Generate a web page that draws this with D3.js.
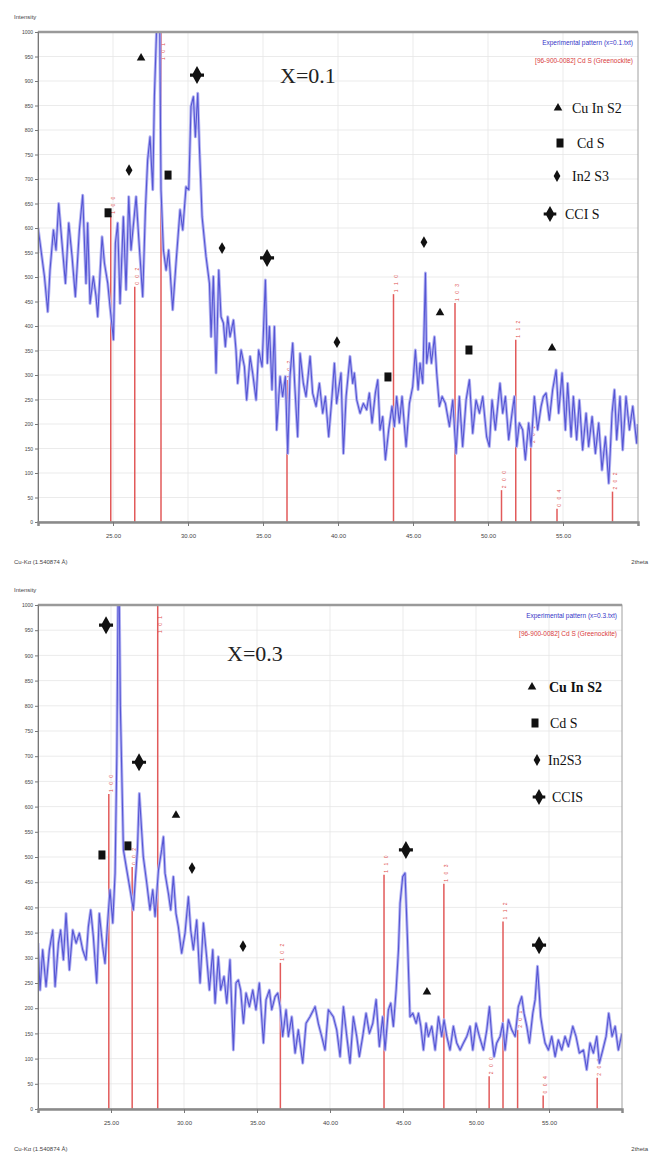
<!DOCTYPE html>
<html>
<head>
<meta charset="utf-8">
<script src="https://cdn.jsdelivr.net/npm/d3@7"></script>
<style>
body { margin: 0; background: #fff; }
</style>
</head>
<body>
<script>
// measured XRD pattern, sample x = 0.1  [2theta, counts]
var pattern01 = [[20.0,600],[20.14,569],[20.43,501],[20.65,429],[20.8,514],[21.03,596],[21.2,555],[21.38,650],[21.6,569],[21.83,487],[22.05,610],[22.27,542],[22.49,460],[22.76,596],[22.98,667],[23.2,487],[23.31,610],[23.47,446],[23.69,501],[23.87,460],[23.98,419],[24.27,582],[24.43,528],[24.65,487],[24.8,440],[25.03,372],[25.16,569],[25.31,610],[25.47,446],[25.69,623],[25.87,474],[26.05,664],[26.2,555],[26.54,664],[26.71,582],[26.98,460],[27.16,637],[27.31,739],[27.47,786],[27.65,678],[27.76,868],[27.9,1000],[28.0,1180],[28.12,1000],[28.2,678],[28.36,555],[28.54,514],[28.71,555],[28.98,433],[29.2,528],[29.47,637],[29.65,596],[29.87,684],[30.05,678],[30.2,848],[30.36,868],[30.49,786],[30.65,875],[30.76,766],[30.94,623],[31.2,542],[31.43,487],[31.54,378],[31.69,501],[31.87,304],[32.05,514],[32.2,419],[32.36,406],[32.49,358],[32.65,419],[32.8,378],[33.03,412],[33.2,351],[33.31,283],[33.54,351],[33.76,317],[33.91,249],[34.14,338],[34.31,304],[34.54,249],[34.71,351],[34.94,317],[35.16,494],[35.29,324],[35.43,399],[35.6,270],[35.76,399],[35.91,188],[36.14,297],[36.31,256],[36.49,297],[36.65,140],[36.8,297],[36.98,365],[37.11,283],[37.31,174],[37.47,344],[37.69,283],[37.87,256],[38.14,338],[38.31,263],[38.54,236],[38.76,283],[38.98,222],[39.16,256],[39.38,174],[39.6,256],[39.76,324],[39.91,242],[40.2,304],[40.36,140],[40.54,256],[40.8,338],[40.98,283],[41.09,304],[41.25,249],[41.47,222],[41.69,242],[41.91,229],[42.09,263],[42.27,202],[42.49,263],[42.65,290],[42.8,188],[42.98,215],[43.16,127],[43.38,188],[43.6,236],[43.76,195],[43.91,256],[44.09,202],[44.27,256],[44.54,154],[44.76,242],[44.98,276],[45.16,351],[45.34,270],[45.47,324],[45.65,283],[45.83,508],[45.91,324],[46.09,365],[46.23,324],[46.43,378],[46.58,304],[46.76,236],[46.94,256],[47.16,242],[47.43,195],[47.65,249],[47.87,140],[48.09,256],[48.31,154],[48.54,249],[48.76,290],[48.98,181],[49.2,249],[49.43,222],[49.65,256],[49.91,174],[50.09,154],[50.27,249],[50.49,188],[50.8,283],[50.98,222],[51.16,256],[51.38,168],[51.6,222],[51.76,256],[51.91,154],[52.09,202],[52.31,188],[52.49,127],[52.71,202],[52.87,154],[53.09,256],[53.31,188],[53.54,236],[53.69,256],[53.87,263],[54.09,208],[54.31,270],[54.54,310],[54.71,222],[54.94,304],[55.16,188],[55.31,283],[55.54,174],[55.69,256],[55.91,168],[56.09,249],[56.31,147],[56.54,222],[56.71,154],[56.94,215],[57.16,140],[57.38,202],[57.6,106],[57.83,174],[58.05,79],[58.27,222],[58.43,270],[58.58,168],[58.8,256],[58.98,147],[59.2,256],[59.43,188],[59.65,236],[59.91,161],[60.0,200]];

// measured XRD pattern, sample x = 0.3
var pattern03 = [[20.0,329],[20.14,236],[20.32,316],[20.55,243],[20.78,316],[21.01,355],[21.17,243],[21.4,329],[21.55,355],[21.74,296],[21.92,388],[22.15,276],[22.38,355],[22.61,329],[22.83,349],[23.06,316],[23.29,296],[23.45,362],[23.61,395],[23.79,342],[24.02,250],[24.2,388],[24.43,322],[24.59,289],[24.75,362],[24.93,435],[25.12,369],[25.28,468],[25.4,700],[25.52,1150],[25.64,800],[25.85,514],[26.08,474],[26.35,428],[26.53,395],[26.65,448],[26.81,514],[26.94,626],[27.21,501],[27.45,448],[27.67,395],[27.86,435],[28.02,382],[28.25,474],[28.47,514],[28.59,540],[28.7,468],[28.93,428],[29.09,395],[29.27,461],[29.45,388],[29.61,362],[29.84,309],[30.07,349],[30.3,421],[30.46,355],[30.64,316],[30.87,375],[31.1,250],[31.33,369],[31.55,302],[31.74,236],[31.97,316],[32.13,210],[32.35,302],[32.51,236],[32.74,263],[32.93,210],[33.15,296],[33.38,117],[33.56,250],[33.72,256],[33.88,236],[34.07,170],[34.25,230],[34.48,203],[34.71,236],[34.93,197],[35.16,250],[35.44,131],[35.62,217],[35.85,236],[36.01,197],[36.24,223],[36.42,230],[36.58,203],[36.76,144],[36.99,197],[37.15,144],[37.38,183],[37.61,111],[37.83,157],[38.13,91],[38.36,170],[38.63,183],[38.98,203],[39.2,170],[39.43,144],[39.66,117],[39.89,197],[40.23,183],[40.46,157],[40.69,104],[40.92,203],[41.15,144],[41.37,91],[41.6,183],[41.83,144],[42.01,104],[42.24,144],[42.47,190],[42.7,150],[42.93,170],[43.16,217],[43.38,124],[43.61,183],[43.77,117],[44.0,197],[44.16,210],[44.34,164],[44.53,236],[44.69,316],[44.8,408],[44.98,461],[45.14,468],[45.3,342],[45.48,183],[45.67,190],[45.9,170],[46.06,190],[46.22,164],[46.4,117],[46.58,170],[46.74,144],[46.97,164],[47.2,117],[47.43,183],[47.65,144],[47.81,177],[48.0,144],[48.22,117],[48.45,164],[48.68,131],[48.91,117],[49.14,131],[49.37,144],[49.59,164],[49.78,117],[50.0,170],[50.23,144],[50.51,117],[50.74,157],[50.92,203],[51.08,144],[51.24,104],[51.42,131],[51.65,144],[51.83,170],[51.99,117],[52.22,177],[52.45,157],[52.68,144],[52.9,203],[53.13,223],[53.29,190],[53.48,164],[53.66,131],[53.89,190],[54.05,217],[54.21,283],[54.32,236],[54.43,183],[54.57,157],[54.73,131],[54.96,117],[55.19,144],[55.42,104],[55.64,137],[55.87,117],[56.1,144],[56.33,124],[56.63,164],[56.85,144],[57.08,111],[57.36,117],[57.58,78],[57.81,131],[58.04,111],[58.27,144],[58.45,91],[58.68,117],[58.91,144],[59.09,190],[59.32,144],[59.53,164],[59.75,117],[60.0,150]];

// reference card 96-900-0082 CdS (Greenockite)
var refTheta = [24.85, 26.45, 28.2, 36.6, 43.7, 47.8, 50.9, 51.85, 52.85, 54.6, 58.3];
var refInt   = [625, 480, 1000, 290, 465, 447, 65, 372, 157, 27, 62];
var refHkl   = ["1 0 0", "0 0 2", "1 0 1", "1 0 2", "1 1 0", "1 0 3", "2 0 0", "1 1 2", "2 0 1", "0 0 4", "2 0 2"];

var xTicks = [25, 30, 35, 40, 45, 50, 55];
var yTicks = d3.range(0, 1001, 50);

// phase markers [type, 2theta, height]
var marks01 = [["tri",26.87,947],["dia",26.07,718],["sq",24.67,631],["sq",28.67,708],["ccis",30.6,912],["dia",32.27,559],["ccis",35.27,539],["dia",39.93,367],["sq",43.33,296],["dia",45.73,571],["tri",46.8,427],["sq",48.73,351],["tri",54.27,355]];
var marks03 = [["sq",24.38,504],["sq",26.16,522],["ccis",24.66,960],["ccis",26.92,688],["tri",29.45,583],["dia",30.55,478],["dia",34.04,323],["ccis",45.2,514],["tri",46.64,232],["ccis",54.32,325]];

var phaseNames01 = ["Cu In S2", "Cd S", "In2 S3", "CCI S"];
var phaseNames03 = ["Cu In S2", "Cd S", "In2S3", "CCIS"];

var sans = "Liberation Sans, Arial, sans-serif";
var serif = "Liberation Serif, Times New Roman, serif";

var svg = d3.select("body").append("svg")
    .attr("width", 653).attr("height", 1160)
    .style("font-family", sans);

function symbolPath(type, s) {
  if (type == "tri") return d3.symbol(d3.symbolTriangle, 32 * s * s)();
  if (type == "dia") return d3.symbol(d3.symbolDiamond, 40 * s * s)();
  if (type == "sq") return "M" + (-3.5 * s) + "," + (-4.5 * s) + "h" + (7 * s) + "v" + (9 * s) + "h" + (-7 * s) + "Z";
  // CCIS: tall diamond crossed by a bar
  return "M0," + (-9 * s) + "L" + (5 * s) + ",0L0," + (9 * s) + "L" + (-5 * s) + ",0Z" +
         "M" + (-7 * s) + "," + (-1.6 * s) + "h" + (14 * s) + "v" + (3.2 * s) + "h" + (-14 * s) + "Z";
}

function panel(p) {
  var g = svg.append("g");
  var x = d3.scaleLinear().domain([20, 60]).range([p.left, p.right]);
  var y = d3.scaleLinear().domain([0, 1000]).range([p.bottom, p.top]);

  // grid
  g.selectAll(".hg").data(yTicks.slice(1)).enter().append("line")
    .attr("x1", p.left).attr("x2", p.right)
    .attr("y1", d => y(d)).attr("y2", d => y(d))
    .attr("stroke", "#e6e6e6").attr("stroke-width", 0.8);
  g.selectAll(".vg").data(xTicks).enter().append("line")
    .attr("x1", d => x(d)).attr("x2", d => x(d))
    .attr("y1", p.top).attr("y2", p.bottom)
    .attr("stroke", "#e6e6e6").attr("stroke-width", 0.8);

  var clipId = "clip" + p.id;
  svg.append("clipPath").attr("id", clipId).append("rect")
    .attr("x", p.left).attr("y", p.top).attr("width", p.right - p.left).attr("height", p.bottom - p.top);

  // reference sticks
  g.selectAll(".ref").data(refTheta).enter().append("line")
    .attr("x1", d => x(d)).attr("x2", d => x(d))
    .attr("y1", p.bottom).attr("y2", (d, i) => y(refInt[i]))
    .attr("stroke", "#e25a5a").attr("stroke-width", 1.5);
  g.selectAll(".hkl").data(refTheta).enter().append("text")
    .attr("transform", function(d, i) {
      var top = Math.max(y(refInt[i]) - 2, p.top + 28);
      return "translate(" + (x(d) + 4) + "," + top + ") rotate(-90)";
    })
    .attr("font-size", 5).attr("fill", "#e05050").attr("letter-spacing", 1.5)
    .text((d, i) => refHkl[i]);

  // experimental pattern: soft halo plus core stroke
  var line = d3.line().x(d => x(d[0])).y(d => y(d[1]));
  g.append("path").datum(p.data)
    .attr("clip-path", "url(#" + clipId + ")")
    .attr("d", line).attr("fill", "none")
    .attr("stroke", "#b4b4f2").attr("stroke-width", 3).attr("stroke-linejoin", "round");
  g.append("path").datum(p.data)
    .attr("clip-path", "url(#" + clipId + ")")
    .attr("d", line).attr("fill", "none")
    .attr("stroke", "#5656d4").attr("stroke-width", 1.1).attr("stroke-linejoin", "round");

  // frame
  g.append("rect").attr("x", p.left).attr("y", p.top)
    .attr("width", p.right - p.left).attr("height", p.bottom - p.top)
    .attr("fill", "none").attr("stroke", "#a0a0a0").attr("stroke-width", 1);
  g.append("line").attr("x1", p.left).attr("x2", p.right).attr("y1", p.top).attr("y2", p.top)
    .attr("stroke", "#9a9a9a").attr("stroke-width", 2.5);

  // axes
  var ya = g.append("g").attr("transform", "translate(" + p.left + ",0)")
    .call(d3.axisLeft(y).tickValues(yTicks).tickFormat(d3.format("d")).tickSize(3).tickPadding(2));
  ya.selectAll("text").attr("font-size", 5).attr("fill", "#444");
  ya.selectAll("line,path").attr("stroke", "#777");
  var xa = g.append("g").attr("transform", "translate(0," + p.bottom + ")")
    .call(d3.axisBottom(x).tickValues(xTicks).tickFormat(d3.format(".2f")).tickSize(4).tickPadding(8));
  xa.selectAll("text").attr("font-size", 6).attr("fill", "#444");
  xa.select(".domain").attr("stroke", "#8a8a8a").attr("stroke-width", 2.5);
  xa.selectAll(".tick line").attr("stroke", "#777");
  svg.selectAll(".tick text").style("font-family", sans);

  g.append("text").attr("x", 14).attr("y", p.top - 13).attr("font-size", 6).attr("fill", "#444").text("Intensity");
  g.append("text").attr("x", 14).attr("y", p.bottom + 42).attr("font-size", 6).attr("fill", "#444").text("Cu-K\u03b1 (1.540874 \u00c5)");
  g.append("text").attr("x", 648).attr("y", p.bottom + 42).attr("text-anchor", "end")
    .attr("font-size", 6).attr("fill", "#444").text("2theta");

  // legend of the software
  g.append("text").attr("x", p.right - 5).attr("y", p.top + 13).attr("text-anchor", "end")
    .attr("font-size", 6.5).attr("fill", "#3535c8").text(p.expName);
  g.append("text").attr("x", p.right - 5).attr("y", p.top + 31).attr("text-anchor", "end")
    .attr("font-size", 6.5).attr("fill", "#d83a3a").text("[96-900-0082] Cd S  (Greenockite)");

  // sample label
  g.append("text").attr("x", p.sx).attr("y", p.sy)
    .style("font-family", serif).attr("font-size", 22).attr("fill", "#222").text(p.sample);

  // phase marks
  g.selectAll(".mk").data(p.marks).enter().append("path")
    .attr("transform", d => "translate(" + x(d[1]) + "," + y(d[2]) + ")")
    .attr("d", d => symbolPath(d[0], 1)).attr("fill", "#111");

  // phase legend
  var types = ["tri", "sq", "dia", "ccis"];
  types.forEach(function(t, i) {
    var L = p.legend[i];
    g.append("path").attr("transform", "translate(" + L[0] + "," + L[1] + ")")
      .attr("d", symbolPath(t, t == "ccis" ? 0.9 : 1)).attr("fill", "#111");
    g.append("text").attr("x", L[2]).attr("y", L[1] + 5)
      .style("font-family", serif).attr("font-size", 14)
      .attr("font-weight", (p.id == 2 && i == 0) ? "bold" : "normal")
      .attr("fill", "#111").text(p.names[i]);
  });
}

panel({id: 1, left: 38, right: 638, top: 32, bottom: 522, data: pattern01, marks: marks01,
       expName: "Experimental pattern (x=0.1.txt)", sample: "X=0.1", sx: 280, sy: 83,
       names: phaseNames01, legend: [[558, 108, 572], [560, 143, 577], [557, 176, 572], [550, 214, 565]]});
panel({id: 2, left: 38, right: 622, top: 605, bottom: 1109, data: pattern03, marks: marks03,
       expName: "Experimental pattern (x=0.3.txt)", sample: "X=0.3", sx: 227, sy: 661,
       names: phaseNames03, legend: [[532, 687, 549], [535, 723, 550], [537, 760, 548], [539, 797, 552]]});
</script>
</body>
</html>
